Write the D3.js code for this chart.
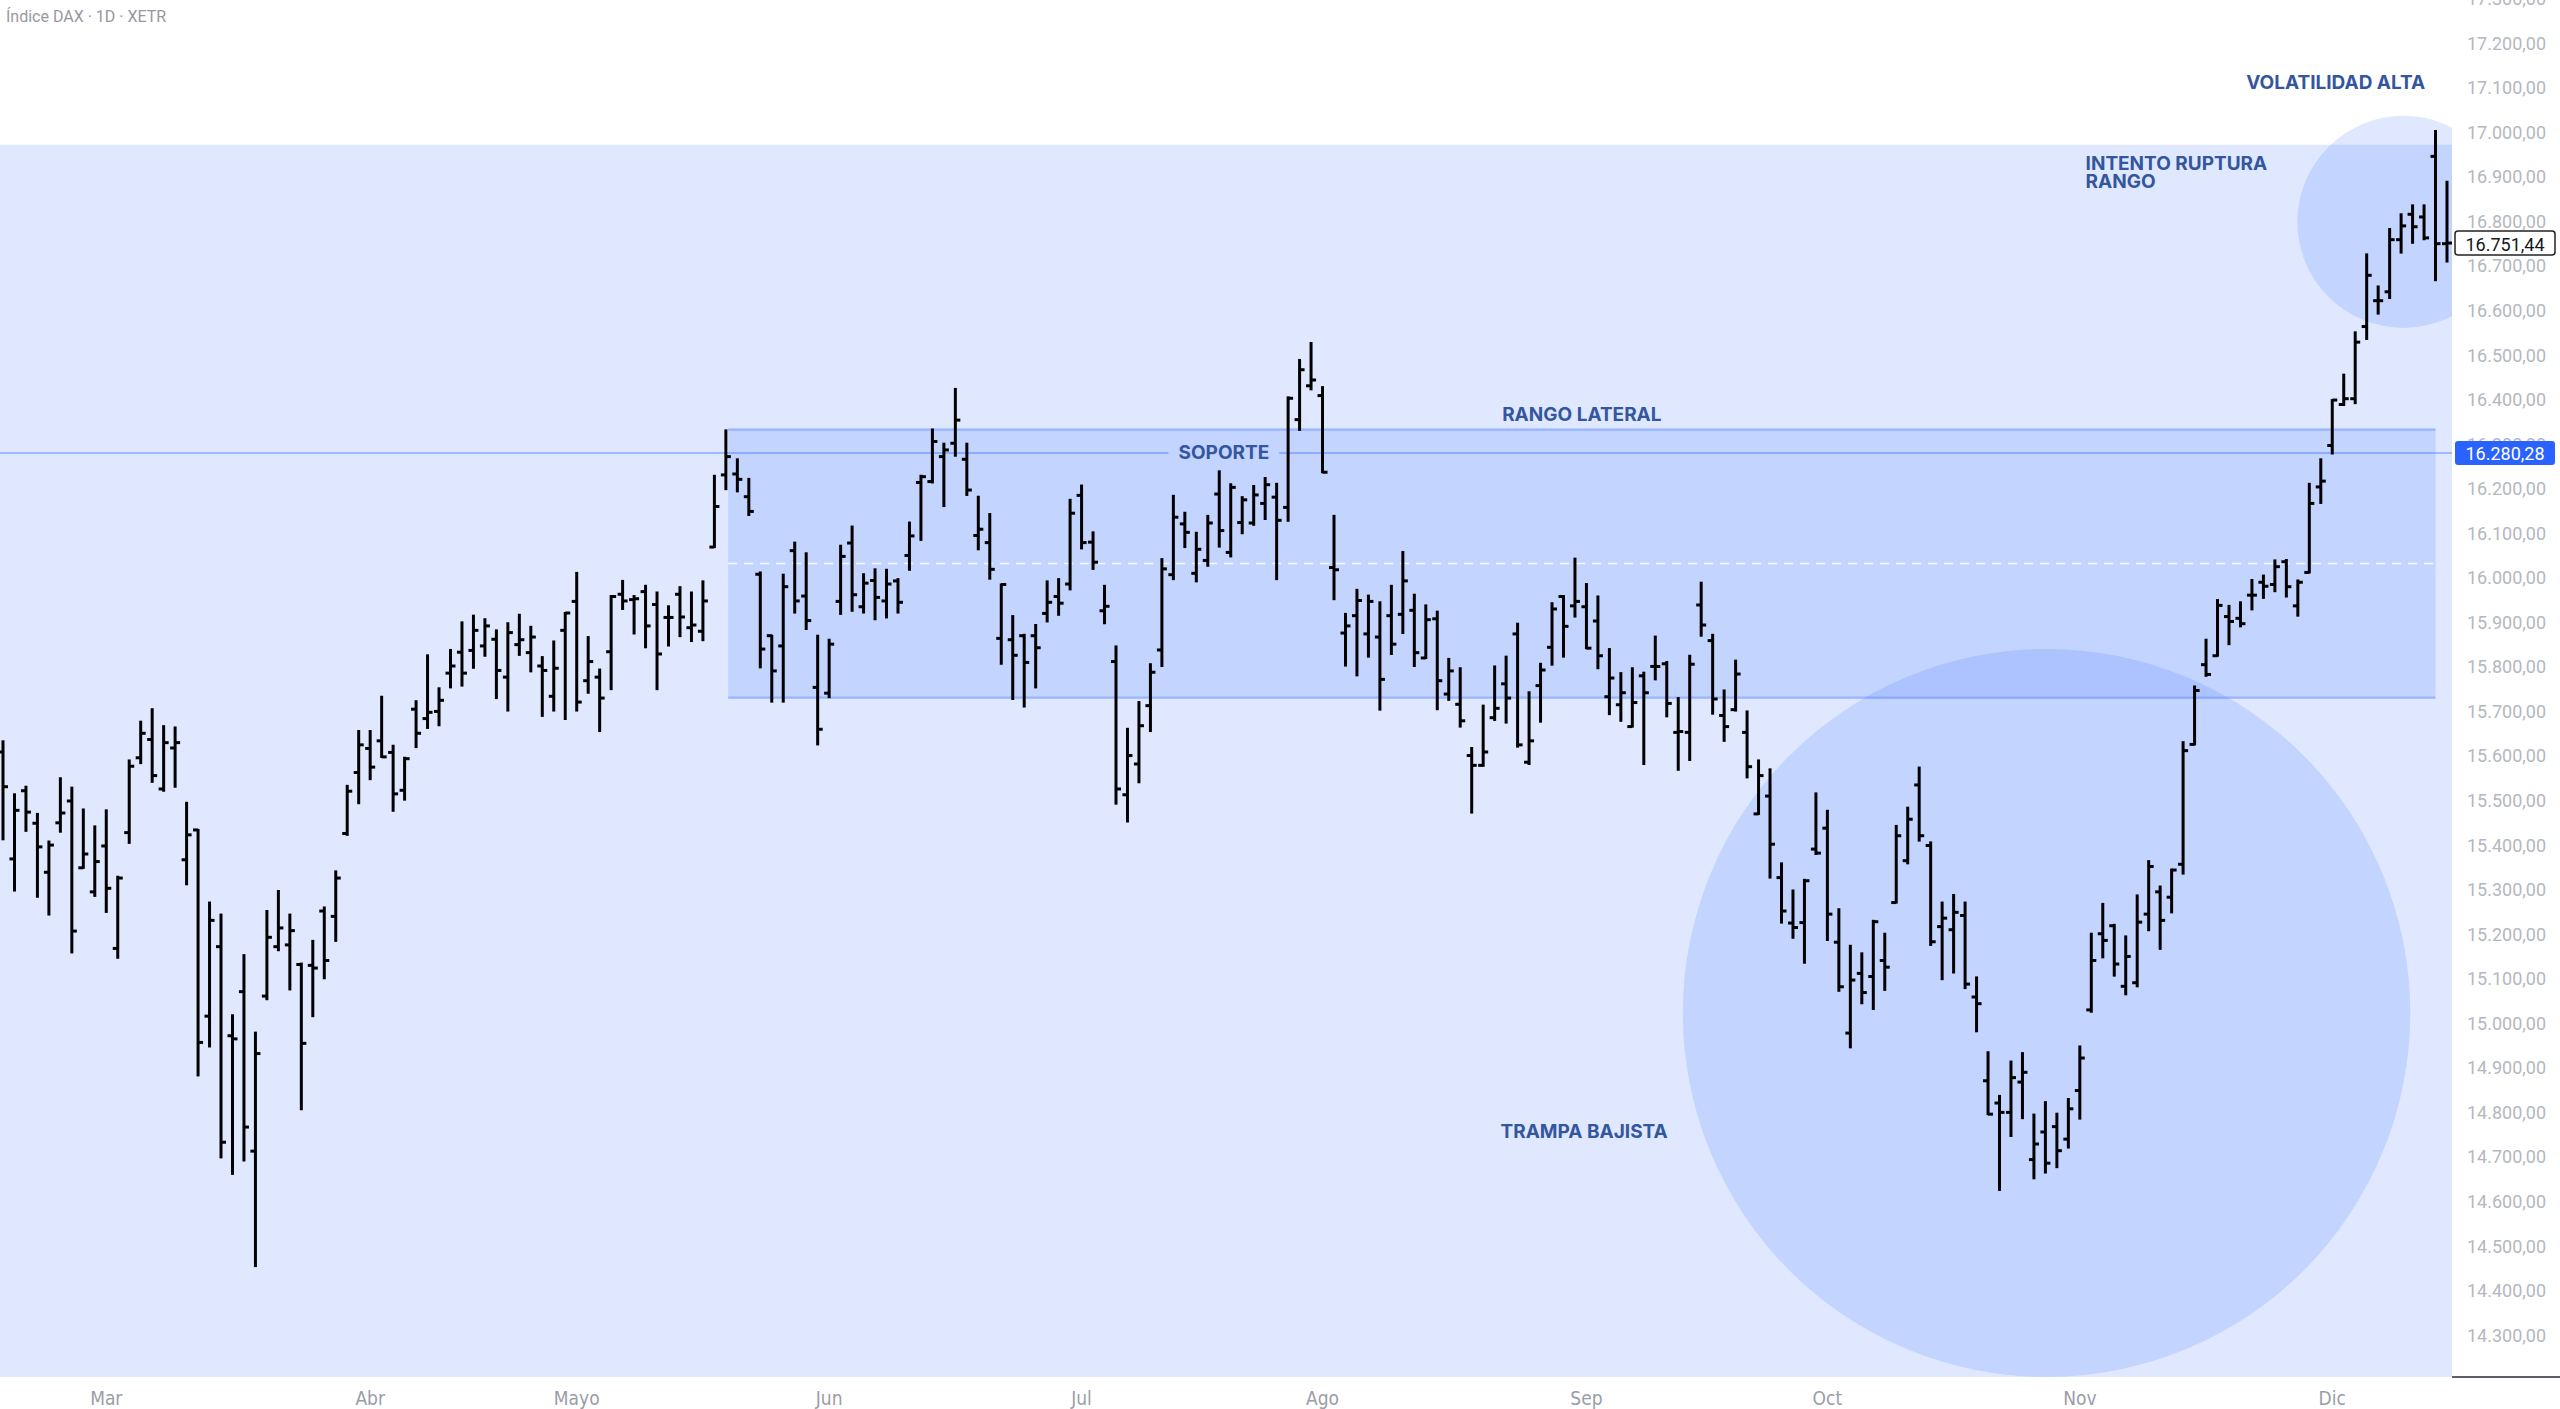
<!DOCTYPE html>
<html>
<head>
<meta charset="utf-8">
<script src="https://cdn.jsdelivr.net/npm/d3@7"></script>
<style>
  body { margin: 0; background: #fff; }
  svg { display: block; }
</style>
</head>
<body>
<svg width="2560" height="1409"></svg>
<script>
// DAX daily bars, 16 Feb 2023 -> 15 Dec 2023 (Xetra)
var opens = [15609,15369,15522,15449,15339,15450,15499,15349,15295,15398,15168,15428,15596,15637,15526,15618,15367,15434,15016,15172,
  14972,15071,14713,15061,15172,15176,15132,15130,15252,15240,15426,15563,15617,15634,15608,15523,15705,15684,15700,15786,
  15833,15837,15847,15862,15777,15850,15832,15802,15734,15882,15947,15769,15777,15834,15963,15951,15969,15940,15911,15963,
  15888,15880,16069,16231,16233,16182,16008,15870,15847,16061,15959,15754,15741,15947,16078,15935,15994,15948,15993,16050,
  16214,16216,16272,16302,16266,16095,16079,15864,15861,15870,15870,15920,15958,15986,16185,16080,15926,15812,15513,15582,
  15713,15838,16007,16121,16010,16039,16188,16057,16124,16123,16167,16181,16158,16355,16431,16409,16023,15876,15915,15874,
  15867,15915,15918,15927,15820,15908,15739,15716,15601,15579,15686,15762,15874,15586,15758,15844,15958,15937,15935,15903,
  15733,15715,15666,15780,15801,15807,15653,15653,15939,15859,15691,15704,15653,15470,15510,15327,15225,15226,15391,15438,
  15182,14978,15112,15105,15141,15271,15365,15535,15399,15217,15210,15242,15059,14871,14821,14800,14868,14694,14756,14768,
  14740,14849,15030,15201,15219,15083,15091,15245,15295,15283,15357,15626,15805,15825,15913,15909,15961,15990,15985,16036,
  15937,16012,16204,16297,16389,16402,16564,16622,16642,16759,16816,16810,16946,16750];
var highs = [15633,15514,15531,15470,15408,15550,15529,15480,15442,15478,15329,15590,15677,15705,15667,15664,15495,15434,15271,15244,
  15018,15153,14979,15252,15297,15244,15134,15185,15260,15341,15533,15656,15656,15733,15623,15596,15723,15826,15752,15838,
  15900,15915,15907,15882,15898,15917,15890,15822,15857,15921,16011,15867,15794,15959,15993,15959,15982,15967,15936,15979,
  15967,15992,16229,16331,16266,16222,16012,15870,16007,16079,16055,15870,15861,16072,16115,16008,16019,16018,15997,16124,
  16229,16333,16301,16424,16301,16182,16143,15985,15914,15872,15894,15992,15997,16175,16207,16102,15982,15846,15661,15721,
  15806,16042,16184,16146,16101,16139,16239,16210,16181,16206,16224,16211,16405,16489,16527,16428,16139,15919,15973,15960,
  15945,15982,16058,15962,15938,15924,15818,15797,15618,15713,15801,15823,15897,15743,15807,15943,15959,16043,15986,15958,
  15840,15786,15797,15787,15868,15811,15730,15825,15989,15872,15747,15814,15700,15590,15570,15359,15298,15322,15516,15477,
  15256,15174,15157,15230,15201,15443,15484,15574,15406,15271,15288,15271,15103,14935,14837,14914,14933,14795,14823,14797,
  14830,14948,15201,15268,15221,15195,15287,15364,15307,15345,15631,15756,15861,15950,15937,15945,15995,16005,16039,16040,
  15994,16211,16266,16399,16456,16551,16726,16654,16783,16816,16836,16836,17003,16889];
var lows = [15413,15298,15432,15284,15244,15430,15159,15349,15286,15250,15147,15405,15584,15542,15522,15531,15312,14883,14948,14699,
  14662,14692,14455,15054,15164,15076,14807,15016,15101,15185,15423,15494,15548,15598,15477,15502,15620,15663,15669,15754,
  15758,15798,15825,15730,15702,15827,15790,15690,15702,15683,15702,15742,15656,15750,15930,15875,15844,15750,15848,15869,
  15858,15860,16069,16199,16194,16141,15799,15722,15722,15922,15885,15626,15732,15919,15926,15922,15907,15911,15922,16018,
  16085,16214,16161,16274,16186,16064,15998,15807,15728,15711,15754,15902,15917,15974,16066,16020,15898,15493,15453,15541,
  15656,15802,15997,16069,15992,16027,16070,16048,16100,16119,16132,15997,16128,16332,16423,16237,15952,15803,15781,15823,
  15704,15829,15876,15802,15820,15705,15726,15666,15473,15578,15681,15675,15621,15582,15677,15805,15823,15913,15842,15797,
  15694,15679,15666,15582,15772,15689,15569,15591,15870,15695,15634,15702,15552,15470,15327,15226,15192,15136,15380,15187,
  15073,14946,15045,15032,15075,15271,15359,15410,15176,15099,15114,15079,14982,14796,14626,14747,14787,14652,14665,14677,
  14721,14786,15026,15148,15107,15065,15083,15209,15167,15249,15336,15626,15780,15825,15851,15891,15929,15955,15970,15958,
  15915,16012,16168,16279,16388,16392,16536,16593,16628,16730,16752,16760,16668,16710];
var closes = [15531,15478,15474,15396,15400,15472,15207,15380,15363,15303,15326,15577,15651,15556,15630,15630,15423,14957,15231,14733,
  14965,14767,14932,15193,15214,15208,14955,15124,15141,15326,15521,15625,15575,15598,15515,15594,15651,15698,15725,15802,
  15786,15882,15892,15792,15877,15861,15867,15792,15797,15921,15721,15812,15730,15958,15948,15953,15892,15829,15911,15912,
  15894,15948,16160,16272,16221,16149,15840,15791,15980,15948,15904,15660,15851,16048,15962,15988,15956,15986,15945,16094,
  16227,16306,16287,16354,16197,16109,16019,15985,15826,15810,15843,15945,15943,16145,16079,16035,15936,15526,15601,15668,
  15788,16020,16136,16102,16064,16123,16106,16203,16175,16186,16209,16129,16403,16467,16444,16237,16018,15892,15949,15947,
  15772,15851,15993,15832,15906,15769,15791,15679,15579,15609,15707,15730,15625,15634,15793,15930,15891,15947,15842,15825,
  15775,15742,15720,15742,15801,15718,15655,15806,15894,15728,15666,15784,15576,15556,15402,15252,15215,15320,15382,15245,
  15082,15097,15069,15228,15126,15421,15458,15421,15183,15236,15249,15088,15044,14796,14800,14878,14890,14729,14686,14714,
  14808,14922,15141,15186,15133,15150,15227,15352,15231,15344,15612,15747,15783,15938,15902,15897,15961,15981,16025,15980,
  15990,16167,16217,16399,16402,16529,16679,16622,16759,16790,16788,16763,16750,16751.44];

var firstDay = '2023-02-16';
var closedDays = ['2023-04-07', '2023-04-10', '2023-05-01'];
var monthNames = ['Ene', 'Feb', 'Mar', 'Abr', 'Mayo', 'Jun', 'Jul', 'Ago', 'Sep', 'Oct', 'Nov', 'Dic'];
var priceTicks = d3.range(14300, 17301, 100);

var supportLevel = 16280.28;
var volZoneTop = 16972;
var rangeBox = { from: 63.2, to: 212.0, top: 16333, bottom: 15731 };
var circles = [
  { i: 178.1, p: 15023, ri: 31.7, rp: 817 },
  { i: 209.2, p: 16799, ri: 9.24, rp: 238 }
];
var notes = [
  { text: 'RANGO LATERAL', i: 137.6, p: 16366, anchor: 'middle' },
  { text: 'TRAMPA BAJISTA', i: 137.8, p: 14756, anchor: 'middle' },
  { text: 'VOLATILIDAD ALTA', i: 203.3, p: 17111, anchor: 'middle' },
  { text: 'INTENTO RUPTURA', i: 181.5, p: 16931, anchor: 'start' },
  { text: 'RANGO', i: 181.5, p: 16889, anchor: 'start' }
];

// trading calendar
var dates = [];
var parse = d3.timeParse('%Y-%m-%d'), fmtDay = d3.timeFormat('%Y-%m-%d');
var d = parse(firstDay);
while (dates.length < opens.length) {
  var wd = d.getDay();
  if (wd != 0 && wd != 6 && closedDays.indexOf(fmtDay(d)) < 0) dates.push(d);
  d = d3.timeDay.offset(d, 1);
}
var bars = dates.map(function (dt, i) {
  return { date: dt, i: i, o: opens[i], h: highs[i], l: lows[i], c: closes[i] };
});

var W = 2560, H = 1409, plotW = 2452, plotH = 1377;
var svg = d3.select('svg');

var x = d3.scaleLinear().domain([0, bars.length - 1]).range([3, 2447]);
var y = d3.scaleLinear().domain([14206, 17297]).range([plotH, 0]);

var es = d3.formatLocale({ decimal: ',', thousands: '.', grouping: [3], currency: ['', ' €'] });
var fmtPrice = es.format(',.2f');

svg.append('defs').append('clipPath').attr('id', 'plot')
  .append('rect').attr('width', plotW).attr('height', plotH);

var plot = svg.append('g').attr('clip-path', 'url(#plot)');
var blue = 'rgba(41,98,255,0.15)';

// large light zone
plot.append('rect')
  .attr('x', 0).attr('width', plotW)
  .attr('y', y(volZoneTop)).attr('height', plotH - y(volZoneTop))
  .attr('fill', blue);

// lateral range box
plot.append('rect')
  .attr('x', x(rangeBox.from)).attr('width', x(rangeBox.to) - x(rangeBox.from))
  .attr('y', y(rangeBox.top)).attr('height', y(rangeBox.bottom) - y(rangeBox.top))
  .attr('fill', blue);
[rangeBox.top, rangeBox.bottom].forEach(function (p) {
  plot.append('line')
    .attr('x1', x(rangeBox.from)).attr('x2', x(rangeBox.to))
    .attr('y1', y(p)).attr('y2', y(p))
    .attr('stroke', 'rgba(41,98,255,0.3)').attr('stroke-width', 2.5);
});
plot.append('line')
  .attr('x1', x(rangeBox.from)).attr('x2', x(rangeBox.to))
  .attr('y1', y((rangeBox.top + rangeBox.bottom) / 2)).attr('y2', y((rangeBox.top + rangeBox.bottom) / 2))
  .attr('stroke', 'rgba(255,255,255,0.85)').attr('stroke-width', 1.5)
  .attr('stroke-dasharray', '9,7');

// circles
plot.selectAll('ellipse').data(circles).enter().append('ellipse')
  .attr('cx', function (c) { return x(c.i); })
  .attr('cy', function (c) { return y(c.p); })
  .attr('rx', function (c) { return x(c.i + c.ri) - x(c.i); })
  .attr('ry', function (c) { return y(c.p - c.rp) - y(c.p); })
  .attr('fill', blue);

// support line with label in the middle
var noteFont = 'Inter, Roboto, sans-serif';
var sup = plot.append('text')
  .attr('x', x(106.4)).attr('y', y(supportLevel))
  .attr('text-anchor', 'middle').attr('dominant-baseline', 'central')
  .attr('font-family', noteFont).attr('font-weight', 700).attr('font-size', 19)
  .attr('fill', '#34569e').text('SOPORTE');
var bb = sup.node().getBBox();
[[0, bb.x - 10], [bb.x + bb.width + 10, plotW]].forEach(function (s) {
  plot.append('line')
    .attr('x1', s[0]).attr('x2', s[1])
    .attr('y1', y(supportLevel)).attr('y2', y(supportLevel))
    .attr('stroke', 'rgba(41,98,255,0.35)').attr('stroke-width', 2);
});

// OHLC bars
var tick = 5;
var g = plot.append('g').attr('stroke', '#000').attr('stroke-width', 3);
var bar = g.selectAll('g').data(bars).enter().append('g');
bar.append('line')
  .attr('x1', function (b) { return x(b.i); }).attr('x2', function (b) { return x(b.i); })
  .attr('y1', function (b) { return y(b.h) - 1; }).attr('y2', function (b) { return y(b.l) + 1; });
bar.append('line')
  .attr('x1', function (b) { return x(b.i) - tick; }).attr('x2', function (b) { return x(b.i); })
  .attr('y1', function (b) { return y(b.o); }).attr('y2', function (b) { return y(b.o); });
bar.append('line')
  .attr('x1', function (b) { return x(b.i); }).attr('x2', function (b) { return x(b.i) + tick; })
  .attr('y1', function (b) { return y(b.c); }).attr('y2', function (b) { return y(b.c); });

// annotations
plot.selectAll('text.note').data(notes).enter().append('text')
  .attr('class', 'note')
  .attr('x', function (n) { return x(n.i); })
  .attr('y', function (n) { return y(n.p); })
  .attr('text-anchor', function (n) { return n.anchor; })
  .attr('dominant-baseline', 'central')
  .attr('font-family', noteFont).attr('font-weight', 700).attr('font-size', 19)
  .attr('fill', '#34569e')
  .text(function (n) { return n.text; });

// price axis
var axisFont = 'Roboto, "Noto Sans", sans-serif';
svg.append('g').selectAll('text').data(priceTicks).enter().append('text')
  .attr('x', 2467).attr('y', function (p) { return y(p); })
  .attr('dominant-baseline', 'central')
  .attr('font-family', axisFont).attr('font-size', 18)
  .attr('fill', '#b4b7bf')
  .text(function (p) { return fmtPrice(p); });

function priceTag(p, fill, stroke, color) {
  var t = svg.append('g').attr('transform', 'translate(0,' + y(p) + ')');
  t.append('rect').attr('x', 2455).attr('y', -12).attr('width', 100).attr('height', 24).attr('rx', 3)
    .attr('fill', fill).attr('stroke', stroke).attr('stroke-width', stroke == 'none' ? 0 : 1.5);
  t.append('text').attr('x', 2505).attr('y', 1).attr('text-anchor', 'middle')
    .attr('dominant-baseline', 'central')
    .attr('font-family', axisFont).attr('font-size', 18).attr('fill', color)
    .text(fmtPrice(p));
}
priceTag(closes[closes.length - 1], '#fff', '#222', '#131722');
priceTag(supportLevel, '#2962ff', 'none', '#fff');

svg.append('line').attr('x1', plotW).attr('x2', W).attr('y1', plotH).attr('y2', plotH)
  .attr('stroke', '#5d606b').attr('stroke-width', 2);

// month axis
var monthStarts = bars.filter(function (b, i) {
  return i > 0 && b.date.getMonth() != bars[i - 1].date.getMonth();
});
svg.append('g').selectAll('text').data(monthStarts).enter().append('text')
  .attr('x', function (b) { return x(b.i); }).attr('y', 1398)
  .attr('text-anchor', 'middle').attr('dominant-baseline', 'central')
  .attr('font-family', '"Liberation Sans Narrow", "DejaVu Sans Condensed", sans-serif')
  .attr('font-size', 19).attr('fill', '#9a9da6')
  .text(function (b) { return monthNames[b.date.getMonth()]; });

// title
svg.append('text').attr('x', 6).attr('y', 16).attr('dominant-baseline', 'central')
  .attr('font-family', axisFont).attr('font-size', 16).attr('fill', '#9598a1')
  .text('Índice DAX · 1D · XETR');
</script>
</body>
</html>
